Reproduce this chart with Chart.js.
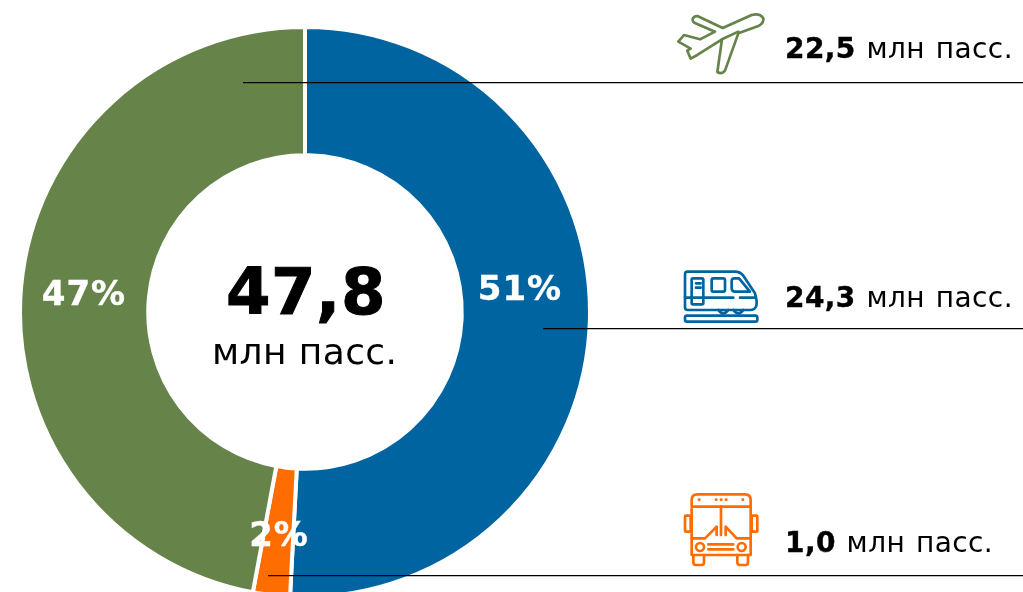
<!DOCTYPE html>
<html lang="ru">
<head>
<meta charset="utf-8">
<title>Пассажиры</title>
<script src="https://cdn.jsdelivr.net/npm/chart.js@4"></script>
<style>
  html, body { margin: 0; padding: 0; width: 1023px; height: 592px; overflow: hidden; background: #fff; }
  body { position: relative; font-family: "DejaVu Sans", sans-serif; color: #000; }
  #wrap { position: absolute; left: 15px; top: 22px; width: 580px; height: 580px; }
  .txt { position: absolute; white-space: nowrap; line-height: 1; }
  .txt b { font-weight: 700; -webkit-text-stroke: 0.4px #000; }
  .share { color: #fff; font-weight: 700; font-size: 34px; letter-spacing: 1px; -webkit-text-stroke: 0.4px #fff; transform: translate(-50%, -50%); }
  .amount { font-size: 28px; letter-spacing: 0.4px; word-spacing: 1.5px; }
  .total b { -webkit-text-stroke: 1px #000; letter-spacing: 0.5px; }
  .rule { position: absolute; height: 1px; right: 0; background: #000; box-shadow: 0 1px 0 rgba(0,0,0,.25); }
  svg { position: absolute; left: 0; top: 0; }
</style>
</head>
<body>
<div id="wrap"><canvas id="chart" width="580" height="580"></canvas></div>

<svg width="1023" height="592" viewBox="0 0 1023 592" fill="none" stroke-linejoin="round" stroke-linecap="round" stroke-width="8">
  <!-- plane -->
  <g transform="translate(660,0) scale(0.3333)" stroke="#66834a">
    <path d="M165 95 L103 68 Q92 58 104 50 L112 48 L188 84 L275 45 Q300 38 310 55 Q312 70 295 78 L235 100 L195 212 Q185 224 172 216 L186 118 L112 165 L92 176 L82 152 L92 146 L55 125 L72 105 L120 118 Z"/>
    <path d="M186 118 L235 95"/>
  </g>
  <!-- train -->
  <g transform="translate(660,255) scale(0.3333)" stroke="#0064a0">
    <path d="M75 58 Q75 50 83 50 L225 50 Q240 50 250 62 L285 115 Q300 165 270 165 L83 165 Q75 165 75 157 Z"/>
    <rect x="95" y="70" width="35" height="78" rx="4"/>
    <path d="M108 85 H122 M108 98 H122"/>
    <rect x="155" y="70" width="40" height="40" rx="5"/>
    <path d="M215 78 Q215 70 223 70 L237 70 L270 110 L225 110 Q215 110 215 100 Z"/>
    <path d="M75 128 H220 M240 128 H285"/>
    <path d="M175 165 Q190 185 205 165 M220 165 Q235 185 250 165"/>
    <rect x="75" y="182" width="217" height="18" rx="6"/>
  </g>
  <!-- bus -->
  <g transform="translate(660,485) scale(0.3333)" stroke="#ff6d00">
    <path d="M95 65 L95 45 Q95 28 112 28 L255 28 Q272 28 272 45 L272 65 Z"/>
    <path d="M95 72 L95 210 L272 210 L272 65"/>
    <path d="M183 65 V150"/>
    <rect x="75" y="92" width="17" height="48" rx="3"/>
    <rect x="275" y="92" width="17" height="48" rx="3"/>
    <path d="M100 210 V232 Q100 240 108 240 L125 240 Q132 240 132 232 V210"/>
    <path d="M232 210 V232 Q232 240 240 240 L257 240 Q264 240 264 232 V210"/>
    <circle cx="120" cy="186" r="12"/>
    <circle cx="245" cy="186" r="12"/>
    <path d="M145 178 H220 M145 193 H220"/>
    <path d="M95 160 H135 L170 125 V150 M230 160 L197 125 V150 M230 160 H272"/>
    <path d="M117 44 h1 M168 44 h1 M183 44 h1 M198 44 h1 M248 44 h1"/>
  </g>
</svg>

<div id="overlay"></div>

<script>
// ── Data ────────────────────────────────────────────
const modes = ['Поезд', 'Автобус', 'Самолёт'];
const passengers = [24.3, 1.0, 22.5];
const shareLabels = ['51%', '2%', '47%'];
const sliceColors = ['#0064a0', '#ff6d00', '#66834a'];
const amountLabels = ['24,3', '1,0', '22,5'];
const unitLabel = 'млн пасс.';
const totalLabel = '47,8';

// ── Text placement (px on the page) ─────────────────
const sharePos = [[520, 288], [279, 534], [84, 293]];
const amountPos = [[785, 284], [785, 529], [785, 35]];
const rules = [[543, 328], [268, 575], [243, 82]];

new Chart(document.getElementById('chart'), {
  type: 'doughnut',
  data: {
    labels: modes,
    datasets: [{
      data: passengers,
      backgroundColor: sliceColors,
      borderColor: '#fff',
      borderWidth: 4,
      borderAlign: 'center',
      hoverOffset: 0,
    }],
  },
  options: {
    responsive: false,
    animation: false,
    cutout: '55%',
    layout: { padding: 3 },
    plugins: { legend: { display: false }, tooltip: { enabled: false } },
  },
});

// ── Overlay text and leader lines ───────────────────
const overlay = document.getElementById('overlay');

function addText(cls, x, y, html, size) {
  const el = document.createElement('div');
  el.className = 'txt ' + cls;
  el.style.left = x + 'px';
  el.style.top = y + 'px';
  if (size) el.style.fontSize = size + 'px';
  el.innerHTML = html;
  overlay.appendChild(el);
}

rules.forEach(([x, y]) => {
  const el = document.createElement('div');
  el.className = 'rule';
  el.style.left = x + 'px';
  el.style.top = y + 'px';
  overlay.appendChild(el);
});

shareLabels.forEach((s, i) => addText('share', sharePos[i][0], sharePos[i][1], s));
amountLabels.forEach((a, i) => addText('amount', amountPos[i][0], amountPos[i][1], `<b>${a}</b> ${unitLabel}`));
addText('total', 226, 260, `<b>${totalLabel}</b>`, 64);
addText('', 212, 334, `<span style="letter-spacing:.4px">${unitLabel}</span>`, 36);
</script>
</body>
</html>
